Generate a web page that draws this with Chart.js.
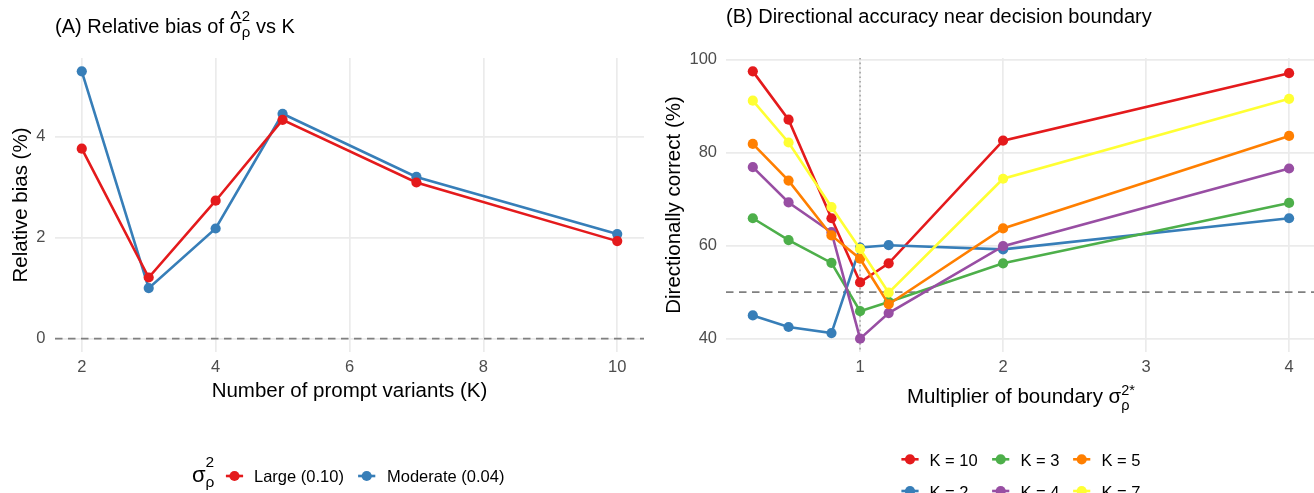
<!DOCTYPE html>
<html>
<head>
<meta charset="utf-8">
<script src="https://cdn.jsdelivr.net/npm/chart.js@4.4.1/dist/chart.umd.min.js"></script>
<style>
  html, body { margin: 0; padding: 0; background: #ffffff; width: 1314px; height: 493px; overflow: hidden; }
  .panel { position: absolute; top: 0; }
  #panelA { left: 0; }
  #panelB { left: 660px; }
</style>
</head>
<body>
<canvas id="panelA" class="panel" width="660" height="493"></canvas>
<canvas id="panelB" class="panel" width="662" height="493"></canvas>
<script>
const FONT = '"Liberation Sans", Arial, Helvetica, sans-serif';
const INK = '#000000';
const TICK_INK = '#4D4D4D';
const GRID = '#EBEBEB';
const set1 = ['#E41A1C', '#377EB8', '#4DAF4A', '#984EA3', '#FF7F00', '#FFFF33'];

// Panel A: relative bias of the estimated variance, by number of prompt variants
const promptVariants = [2, 3, 4, 5, 7, 10];
const biasLarge = [3.76, 1.21, 2.73, 4.33, 3.09, 1.93];
const biasModerate = [5.29, 1.00, 2.18, 4.45, 3.20, 2.07];
const biasSeriesNames = ['Large (0.10)', 'Moderate (0.04)'];
const biasXTicks = [2, 4, 6, 8, 10];
const biasYTicks = [0, 2, 4];
const biasReference = 0;

// Panel B: share of directionally correct decisions around the boundary
const multipliers = [0.25, 0.5, 0.8, 1, 1.2, 2, 4];
const correctK10 = [97.5, 87.1, 65.9, 52.1, 56.2, 82.6, 97.1];
const correctK2  = [45.0, 42.5, 41.2, 59.6, 60.1, 59.2, 65.9];
const correctK3  = [65.9, 61.2, 56.3, 45.9, 47.9, 56.2, 69.2];
const correctK4  = [76.9, 69.3, 62.9, 40.0, 45.5, 59.9, 76.6];
const correctK5  = [81.9, 74.0, 62.2, 57.2, 47.4, 63.7, 83.6];
const correctK7  = [91.2, 82.2, 68.3, 59.3, 49.9, 74.4, 91.6];
const kLabels = ['K = 10', 'K = 2', 'K = 3', 'K = 4', 'K = 5', 'K = 7'];
const accXTicks = [1, 2, 3, 4];
const accYTicks = [40, 60, 80, 100];
const chanceLevel = 50;
const boundaryMultiplier = 1;

const POINT_R = 5.1;
const LINE_W = 2.6;

// ggplot-style 5% expansion of a continuous range
function expandRange(values, frac = 0.05) {
  const lo = Math.min(...values), hi = Math.max(...values);
  const pad = (hi - lo) * frac;
  return { min: lo - pad, max: hi + pad };
}

function points(xs, ys) {
  return xs.map((x, i) => ({ x, y: ys[i] }));
}

function series(label, xs, ys, color) {
  return {
    label, data: points(xs, ys),
    borderColor: color, backgroundColor: color,
    borderWidth: LINE_W, pointRadius: POINT_R, pointHoverRadius: POINT_R,
    pointBorderWidth: 0, pointBackgroundColor: color, tension: 0
  };
}

function axis(range, ticks, pad, fit) {
  return {
    type: 'linear', min: range.min, max: range.max,
    afterBuildTicks: s => { s.ticks = ticks.map(v => ({ value: v })); },
    afterFit: fit,
    grid: { color: GRID, lineWidth: 1.7, drawTicks: false },
    border: { display: false },
    ticks: {
      color: TICK_INK, font: { family: FONT, size: 16.5 }, padding: pad,
      autoSkip: false, maxRotation: 0, callback: v => String(v)
    }
  };
}

// Text runs with stacked super/subscripts and hats, for the plotmath-like labels
function drawMath(ctx, x, y, pieces, align = 'left', color = INK) {
  const placed = [];
  let cursor = 0, baseX = 0, baseW = 0;
  for (const p of pieces) {
    ctx.font = `${p.size}px ${FONT}`;
    const w = ctx.measureText(p.t).width;
    let px;
    if (p.hat) {
      px = baseX + (baseW - w) / 2;
    } else if (p.stack) {
      px = baseX;
      cursor = Math.max(cursor, baseX + w);
    } else {
      px = cursor; baseX = px; baseW = w; cursor += w;
    }
    placed.push({ ...p, px });
  }
  const start = align === 'center' ? x - cursor / 2 : x;
  ctx.save();
  ctx.fillStyle = color;
  ctx.textAlign = 'left';
  ctx.textBaseline = 'alphabetic';
  for (const p of placed) {
    ctx.font = `${p.size}px ${FONT}`;
    ctx.fillText(p.t, start + p.px, y - (p.rise || 0));
  }
  ctx.restore();
}

function drawKey(ctx, cx, cy, color) {
  ctx.save();
  ctx.strokeStyle = color;
  ctx.lineWidth = LINE_W;
  ctx.beginPath();
  ctx.moveTo(cx - 8.6, cy);
  ctx.lineTo(cx + 8.6, cy);
  ctx.stroke();
  ctx.fillStyle = color;
  ctx.beginPath();
  ctx.arc(cx, cy, POINT_R, 0, Math.PI * 2);
  ctx.fill();
  ctx.restore();
}

// Dashed horizontal and dotted vertical reference lines, under the data
function referenceLines(refY, refX) {
  return {
    id: 'referenceLines',
    beforeDatasetsDraw(chart) {
      const { ctx, chartArea: a, scales: { x, y } } = chart;
      ctx.save();
      if (refX !== undefined) {
        const px = x.getPixelForValue(refX);
        ctx.strokeStyle = '#A3A3A3';
        ctx.lineWidth = 1.6;
        ctx.setLineDash([1.6, 3]);
        ctx.beginPath(); ctx.moveTo(px, a.top); ctx.lineTo(px, a.bottom); ctx.stroke();
      }
      if (refY !== undefined) {
        const py = y.getPixelForValue(refY);
        ctx.strokeStyle = '#808080';
        ctx.lineWidth = 1.9;
        ctx.setLineDash([7.5, 5.5]);
        ctx.beginPath(); ctx.moveTo(a.left, py); ctx.lineTo(a.right, py); ctx.stroke();
      }
      ctx.restore();
    }
  };
}

function drawYTitle(ctx, x, cy, text) {
  ctx.save();
  ctx.translate(x, cy);
  ctx.rotate(-Math.PI / 2);
  drawMath(ctx, 0, 0, [{ t: text, size: 20.5 }], 'center');
  ctx.restore();
}

const baseOptions = (layoutPad, scales) => ({
  responsive: false,
  devicePixelRatio: 1,
  animation: false,
  events: [],
  layout: { padding: layoutPad },
  plugins: { legend: { display: false }, tooltip: { enabled: false } },
  scales
});

// ---------- Panel A ----------
const rangeAx = expandRange(promptVariants);
const rangeAy = expandRange([...biasLarge, ...biasModerate, biasReference]);

const panelAText = {
  id: 'panelAText',
  afterDraw(chart) {
    const { ctx, chartArea: a } = chart;
    drawMath(ctx, a.left, 33.3, [
      { t: '(A) Relative bias of ', size: 20 },
      { t: 'σ', size: 20 },
      { t: '^', size: 22, hat: true, rise: 7.5 },
      { t: '2', size: 15, rise: 12.6 },
      { t: 'ρ', size: 15, rise: -3.6, stack: true },
      { t: ' vs K', size: 20 }
    ]);
    drawMath(ctx, (a.left + a.right) / 2, 397.3, [{ t: 'Number of prompt variants (K)', size: 20.5 }], 'center');
    drawYTitle(ctx, 27, (a.top + a.bottom) / 2, 'Relative bias (%)');

    // legend
    drawMath(ctx, 192, 481.7, [
      { t: 'σ', size: 22 },
      { t: '2', size: 15.5, rise: 15 },
      { t: 'ρ', size: 15.5, rise: -5.5, stack: true }
    ]);
    const ds = chart.data.datasets;
    const keyX = [234.5, 366.7];
    const textX = [254, 387];
    ds.forEach((d, i) => {
      drawKey(ctx, keyX[i], 476, d.borderColor);
      drawMath(ctx, textX[i], 481.7, [{ t: biasSeriesNames[i], size: 16.5 }]);
    });
  }
};

new Chart(document.getElementById('panelA'), {
  type: 'line',
  data: {
    datasets: [
      series(biasSeriesNames[0], promptVariants, biasLarge, set1[0]),
      series(biasSeriesNames[1], promptVariants, biasModerate, set1[1])
    ]
  },
  options: baseOptions(
    { top: 58, right: 16, left: 0, bottom: 0 },
    {
      x: axis(rangeAx, biasXTicks, 5.6, s => { s.height = 493 - 352; }),
      y: axis(rangeAy, biasYTicks, 9.5, s => { s.width = 55; })
    }
  ),
  plugins: [referenceLines(biasReference, undefined), panelAText]
});

// ---------- Panel B ----------
const accSeries = [correctK10, correctK2, correctK3, correctK4, correctK5, correctK7];
const rangeBx = expandRange([...multipliers, boundaryMultiplier]);
const rangeBy = expandRange([...accSeries.flat(), chanceLevel]);

const panelBText = {
  id: 'panelBText',
  afterDraw(chart) {
    const { ctx, chartArea: a } = chart;
    drawMath(ctx, a.left, 22.7, [{ t: '(B) Directional accuracy near decision boundary', size: 20 }]);
    drawMath(ctx, (a.left + a.right) / 2, 402.7, [
      { t: 'Multiplier of boundary ', size: 20.5 },
      { t: 'σ', size: 20.5 },
      { t: '2*', size: 14.5, rise: 7.7 },
      { t: 'ρ', size: 14.5, rise: -7.7, stack: true }
    ], 'center');
    drawYTitle(ctx, 19.5, (a.top + a.bottom) / 2, 'Directionally correct (%)');

    // legend: two rows, filled column by column
    const keyX = [910, 1000.7, 1081.7].map(v => v - 660);
    const textX = [929.5, 1020.5, 1101.5].map(v => v - 660);
    const rowY = [459.3, 491];
    kLabels.forEach((label, i) => {
      const col = Math.floor(i / 2), row = i % 2;
      drawKey(ctx, keyX[col], rowY[row], set1[i]);
      drawMath(ctx, textX[col], rowY[row] + 6.7, [{ t: label, size: 16.5 }]);
    });
  }
};

// later-listed groups are painted on top, so the datasets are passed in reverse
const accDatasets = kLabels.map((label, i) => series(label, multipliers, accSeries[i], set1[i])).reverse();

new Chart(document.getElementById('panelB'), {
  type: 'line',
  data: { datasets: accDatasets },
  options: baseOptions(
    { top: 58, right: 6.1, left: 0, bottom: 0 },
    {
      x: axis(rangeBx, accXTicks, 5.6, s => { s.height = 493 - 352; }),
      y: axis(rangeBy, accYTicks, 9, s => { s.width = 66; })
    }
  ),
  plugins: [referenceLines(chanceLevel, boundaryMultiplier), panelBText]
});
</script>
</body>
</html>
